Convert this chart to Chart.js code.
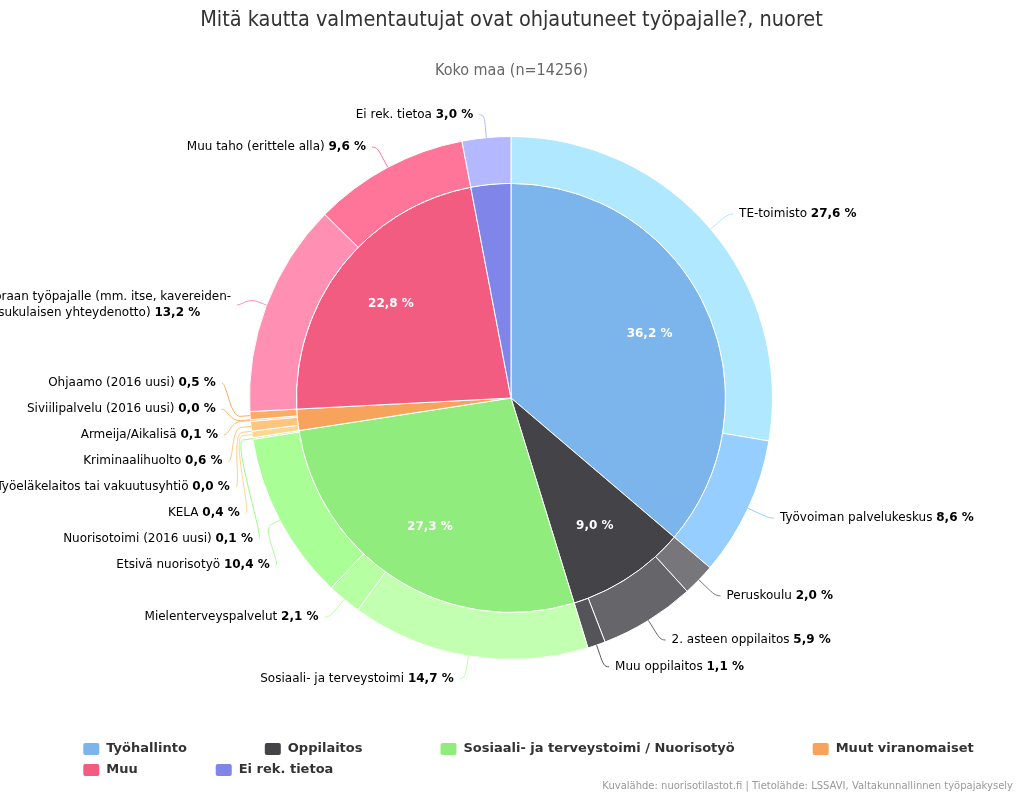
<!DOCTYPE html>
<html>
<head>
<meta charset="utf-8">
<script src="https://cdn.jsdelivr.net/npm/chart.js@4/dist/chart.umd.min.js"></script>
<style>
  html, body { margin: 0; padding: 0; background: #fff; }
</style>
</head>
<body>
<canvas id="chart" width="1023" height="796"></canvas>
<script>
// Inner ring: main groups
const groupNames = ['Työhallinto', 'Oppilaitos', 'Sosiaali- ja terveystoimi / Nuorisotyö', 'Muut viranomaiset', 'Muu', 'Ei rek. tietoa'];
const groupValues = [36.2, 9.0, 27.3, 1.6, 22.8, 3.0];
const groupColors = ['#7cb5ec', '#434348', '#90ed7d', '#f7a35c', '#f15c80', '#8085e9'];

// Outer ring: sub categories
const itemNames = [
  'TE-toimisto', 'Työvoiman palvelukeskus',
  'Peruskoulu', '2. asteen oppilaitos', 'Muu oppilaitos',
  'Sosiaali- ja terveystoimi', 'Mielenterveyspalvelut', 'Etsivä nuorisotyö', 'Nuorisotoimi (2016 uusi)',
  'KELA', 'Työeläkelaitos tai vakuutusyhtiö', 'Kriminaalihuolto', 'Armeija/Aikalisä', 'Siviilipalvelu (2016 uusi)', 'Ohjaamo (2016 uusi)',
  'Suoraan työpajalle (mm. itse, kavereiden- tai sukulaisen yhteydenotto)', 'Muu taho (erittele alla)',
  'Ei rek. tietoa'
];
const itemValues = [27.6, 8.6, 2.0, 5.9, 1.1, 14.7, 2.1, 10.4, 0.1, 0.4, 0.0, 0.6, 0.1, 0.0, 0.5, 13.2, 9.6, 3.0];
const itemGroup = [0, 0, 1, 1, 1, 2, 2, 2, 2, 3, 3, 3, 3, 3, 3, 4, 4, 5];

const chartTitle = 'Mitä kautta valmentautujat ovat ohjautuneet työpajalle?, nuoret';
const chartSubtitle = 'Koko maa (n=14256)';
const creditText = 'Kuvalähde: nuorisotilastot.fi | Tietolähde: LSSAVI, Valtakunnallinnen työpajakysely';

const FONT = '"DejaVu Sans", Verdana, sans-serif';
const FONT_C = '"DejaVu Sans Condensed", "DejaVu Sans", sans-serif';

// lighten like highcharts color.brighten
function brighten(hex, a) {
  const n = parseInt(hex.slice(1), 16);
  const add = Math.floor(255 * a);
  const ch = [(n >> 16) & 255, (n >> 8) & 255, n & 255].map(v => Math.min(255, v + add));
  return `rgb(${ch[0]},${ch[1]},${ch[2]})`;
}

const outerColors = itemValues.map((v, i) => {
  const g = itemGroup[i];
  const members = itemGroup.filter(x => x === g).length;
  const j = itemGroup.slice(0, i).filter(x => x === g).length;
  return brighten(groupColors[g], 0.2 - j / members / 5);
});

const fmt = v => v.toFixed(1).replace('.', ',') + ' %';

// spread labels vertically so they don't overlap
function distribute(list, lo, hi) {
  let boxes = list.map(it => ({ targets: [it.target], size: it.size, items: [it], pos: 0 }));
  let overlapping = true;
  while (overlapping) {
    boxes.forEach(b => {
      const t = (Math.min(...b.targets) + Math.max(...b.targets)) / 2;
      b.pos = Math.min(Math.max(lo, t - b.size / 2), hi - b.size);
    });
    overlapping = false;
    for (let i = boxes.length - 1; i > 0; i--) {
      const prev = boxes[i - 1], cur = boxes[i];
      if (prev.pos + prev.size > cur.pos) {
        prev.size += cur.size;
        prev.targets = prev.targets.concat(cur.targets);
        prev.items = prev.items.concat(cur.items);
        boxes.splice(i, 1);
        overlapping = true;
      }
    }
  }
  boxes.forEach(b => {
    let y = b.pos;
    b.items.forEach(it => { it.y = y + it.size / 2; y += it.size; });
  });
}

// word wrap label tokens (name normal, value bold)
function wrapTokens(ctx, name, value, maxW) {
  const normal = '12px ' + FONT, bold = 'bold 12px ' + FONT;
  const tokens = name.split(' ').map(w => ({ t: w, f: normal }));
  tokens.push({ t: value, f: bold });
  const lines = [];
  let line = [], w = 0;
  ctx.font = normal;
  const space = ctx.measureText(' ').width;
  tokens.forEach(tok => {
    ctx.font = tok.f;
    const tw = ctx.measureText(tok.t).width;
    const add = line.length ? space + tw : tw;
    if (line.length && w + add > maxW) {
      lines.push({ toks: line, w });
      line = [tok]; w = tw;
    } else {
      line.push(tok); w += add;
    }
  });
  lines.push({ toks: line, w });
  return { lines, space };
}

const drawPlugin = {
  id: 'highchartsLook',
  afterDraw(chart) {
    const ctx = chart.ctx;
    ctx.save();

    // titles
    ctx.textAlign = 'center';
    ctx.textBaseline = 'middle';
    ctx.fillStyle = '#333333';
    ctx.font = '21.5px ' + FONT_C;
    ctx.fillText(chartTitle, 511.5, 20);
    ctx.fillStyle = '#666666';
    ctx.font = '16px ' + FONT_C;
    ctx.fillText(chartSubtitle, 511.5, 71);

    // inner labels
    const innerArcs = chart.getDatasetMeta(1).data;
    ctx.font = 'bold 12px ' + FONT;
    ctx.fillStyle = '#ffffff';
    innerArcs.forEach((arc, i) => {
      if (groupValues[i] < 5) return;
      const mid = (arc.startAngle + arc.endAngle) / 2;
      const rr = arc.outerRadius - 62;
      ctx.fillText(fmt(groupValues[i]), arc.x + Math.cos(mid) * rr, arc.y + Math.sin(mid) * rr);
    });

    // outer labels with connectors
    const arcs = chart.getDatasetMeta(0).data;
    const cx = arcs[0].x, cy = arcs[0].y, r = arcs[0].outerRadius;
    const R = r + 23;
    const lineH = 16;
    const labels = arcs.map((arc, i) => {
      const mid = (arc.startAngle + arc.endAngle) / 2;
      const side = mid < Math.PI / 2 ? 1 : -1;
      const wrap = wrapTokens(ctx, itemNames[i], fmt(itemValues[i]), 262);
      const extra = (wrap.lines.length - 1) * lineH / 2;
      return {
        i, mid, side, wrap,
        target: cy + Math.sin(mid) * R + extra,
        size: wrap.lines.length * lineH + 10,
        color: outerColors[i]
      };
    });
    [1, -1].forEach(s => {
      const list = labels.filter(l => l.side === s).sort((a, b) => a.target - b.target);
      distribute(list, cy - R - 40, cy + R + 40);
    });

    labels.forEach(l => {
      const dy = Math.max(-R, Math.min(R, l.y - cy));
      const xr = cx + l.side * Math.sqrt(R * R - dy * dy);
      const edge = xr + l.side * 11;
      // connector
      const T = { x: cx + Math.cos(l.mid) * r, y: cy + Math.sin(l.mid) * r };
      const B = { x: cx + Math.cos(l.mid) * (r + 10), y: cy + Math.sin(l.mid) * (r + 10) };
      const A = { x: xr + l.side * 5, y: l.y };
      ctx.beginPath();
      ctx.moveTo(A.x, A.y);
      ctx.bezierCurveTo(A.x - l.side * 5, A.y, 2 * B.x - T.x, 2 * B.y - T.y, B.x, B.y);
      ctx.lineTo(T.x, T.y);
      ctx.strokeStyle = l.color;
      ctx.lineWidth = 1;
      ctx.stroke();

      // text
      const lines = l.wrap.lines;
      const maxW = Math.max(...lines.map(ln => ln.w));
      const x0 = l.side === 1 ? edge : edge - maxW;
      ctx.textAlign = 'left';
      ctx.textBaseline = 'middle';
      ctx.fillStyle = '#000000';
      lines.forEach((ln, k) => {
        const ly = l.y - (lines.length - 1) * lineH / 2 + k * lineH;
        let x = x0;
        ln.toks.forEach((tok, n) => {
          if (n > 0) x += l.wrap.space;
          ctx.font = tok.f;
          ctx.fillText(tok.t, x, ly);
          x += ctx.measureText(tok.t).width;
        });
      });
    });

    // legend
    ctx.font = 'bold 13px ' + FONT;
    const itemDistance = 78, symW = 16, symGap = 7, maxRow = 940;
    const rows = [[]];
    let rowW = 0;
    groupNames.forEach((name, i) => {
      const w = symW + symGap + ctx.measureText(name).width;
      const add = rows[rows.length - 1].length ? itemDistance + w : w;
      if (rows[rows.length - 1].length && rowW + add > maxRow) {
        rows.push([]);
        rowW = w;
      } else {
        rowW += add;
      }
      rows[rows.length - 1].push({ i, w });
    });
    const widths = rows.map(row => row.reduce((s, it, k) => s + it.w + (k ? itemDistance : 0), 0));
    const startX = (1023 - Math.max(...widths)) / 2 + 17;
    rows.forEach((row, ri) => {
      let x = startX;
      const y = 749 + ri * 21;
      row.forEach(it => {
        ctx.fillStyle = groupColors[it.i];
        ctx.beginPath();
        ctx.roundRect(x, y - 6, symW, 12, 2);
        ctx.fill();
        ctx.fillStyle = '#333333';
        ctx.textAlign = 'left';
        ctx.fillText(groupNames[it.i], x + symW + symGap, y);
        x += it.w + itemDistance;
      });
    });

    // credits
    ctx.font = '10px ' + FONT;
    ctx.fillStyle = '#999999';
    ctx.textAlign = 'right';
    ctx.fillText(creditText, 1013, 786);

    ctx.restore();
  }
};

new Chart(document.getElementById('chart').getContext('2d'), {
  type: 'doughnut',
  data: {
    labels: itemNames,
    datasets: [
      { data: itemValues, backgroundColor: outerColors, borderColor: '#ffffff', borderWidth: 1, weight: 47 },
      { data: groupValues, backgroundColor: groupColors, borderColor: '#ffffff', borderWidth: 1, weight: 215 }
    ]
  },
  options: {
    responsive: false,
    animation: false,
    cutout: 0,
    events: [],
    layout: { padding: { left: 249, right: 250, top: 136, bottom: 136 } },
    plugins: {
      legend: { display: false },
      tooltip: { enabled: false },
      title: { display: false }
    }
  },
  plugins: [drawPlugin]
});
</script>
</body>
</html>
